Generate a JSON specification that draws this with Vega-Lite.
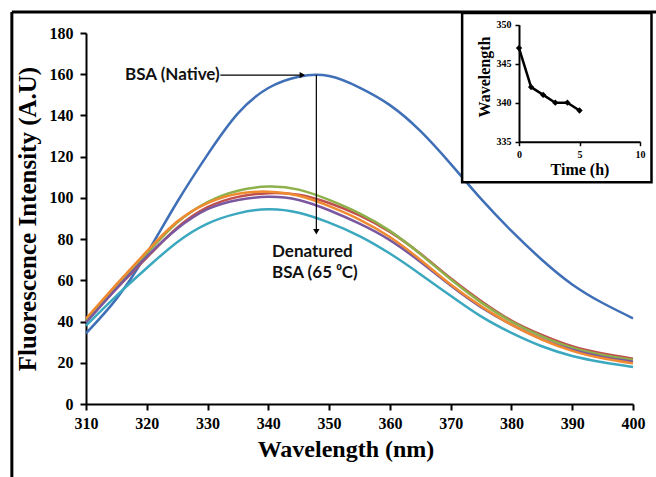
{
  "$schema": "https://vega.github.io/schema/vega-lite/v6.json",
  "width": 547,
  "height": 371,
  "autosize": {"type": "none"},
  "padding": {"left": 86, "top": 33, "right": 23, "bottom": 73},
  "background": "white",
  "config": {"view": {"stroke": null}, "axis": {"grid": false, "labelFlush": false}},
  "datasets": {
    "spectra": [
      {"nm": 310, "I": 34.3, "s": "Native"}, {"nm": 315, "I": 51, "s": "Native"}, {"nm": 320, "I": 73, "s": "Native"}, {"nm": 325, "I": 98, "s": "Native"}, {"nm": 330, "I": 121, "s": "Native"}, {"nm": 335, "I": 141, "s": "Native"}, {"nm": 340, "I": 153.3, "s": "Native"}, {"nm": 345, "I": 158.8, "s": "Native"}, {"nm": 350, "I": 159.1, "s": "Native"}, {"nm": 355, "I": 153.5, "s": "Native"}, {"nm": 360, "I": 145, "s": "Native"}, {"nm": 365, "I": 132.5, "s": "Native"}, {"nm": 370, "I": 116.5, "s": "Native"}, {"nm": 375, "I": 99.5, "s": "Native"}, {"nm": 380, "I": 84, "s": "Native"}, {"nm": 385, "I": 70, "s": "Native"}, {"nm": 390, "I": 58, "s": "Native"}, {"nm": 395, "I": 49, "s": "Native"}, {"nm": 400, "I": 41.6, "s": "Native"},
      {"nm": 310, "I": 40, "s": "D1"}, {"nm": 315, "I": 56, "s": "D1"}, {"nm": 320, "I": 71, "s": "D1"}, {"nm": 325, "I": 85.5, "s": "D1"}, {"nm": 330, "I": 95.5, "s": "D1"}, {"nm": 335, "I": 100.5, "s": "D1"}, {"nm": 340, "I": 102.3, "s": "D1"}, {"nm": 345, "I": 101.5, "s": "D1"}, {"nm": 350, "I": 97.5, "s": "D1"}, {"nm": 355, "I": 91.5, "s": "D1"}, {"nm": 360, "I": 83.5, "s": "D1"}, {"nm": 365, "I": 73, "s": "D1"}, {"nm": 370, "I": 61, "s": "D1"}, {"nm": 375, "I": 50, "s": "D1"}, {"nm": 380, "I": 40.5, "s": "D1"}, {"nm": 385, "I": 33.5, "s": "D1"}, {"nm": 390, "I": 28, "s": "D1"}, {"nm": 395, "I": 24.5, "s": "D1"}, {"nm": 400, "I": 22, "s": "D1"},
      {"nm": 310, "I": 40.5, "s": "D2"}, {"nm": 315, "I": 57, "s": "D2"}, {"nm": 320, "I": 73, "s": "D2"}, {"nm": 325, "I": 88, "s": "D2"}, {"nm": 330, "I": 98, "s": "D2"}, {"nm": 335, "I": 103.5, "s": "D2"}, {"nm": 340, "I": 105.5, "s": "D2"}, {"nm": 345, "I": 104, "s": "D2"}, {"nm": 350, "I": 99, "s": "D2"}, {"nm": 355, "I": 92.5, "s": "D2"}, {"nm": 360, "I": 84, "s": "D2"}, {"nm": 365, "I": 72.8, "s": "D2"}, {"nm": 370, "I": 60.5, "s": "D2"}, {"nm": 375, "I": 49.3, "s": "D2"}, {"nm": 380, "I": 40, "s": "D2"}, {"nm": 385, "I": 32.8, "s": "D2"}, {"nm": 390, "I": 27.3, "s": "D2"}, {"nm": 395, "I": 23.8, "s": "D2"}, {"nm": 400, "I": 21.3, "s": "D2"},
      {"nm": 310, "I": 39.5, "s": "D3"}, {"nm": 315, "I": 56, "s": "D3"}, {"nm": 320, "I": 71.5, "s": "D3"}, {"nm": 325, "I": 85, "s": "D3"}, {"nm": 330, "I": 94.5, "s": "D3"}, {"nm": 335, "I": 99, "s": "D3"}, {"nm": 340, "I": 100.5, "s": "D3"}, {"nm": 345, "I": 99, "s": "D3"}, {"nm": 350, "I": 94, "s": "D3"}, {"nm": 355, "I": 87.5, "s": "D3"}, {"nm": 360, "I": 79.5, "s": "D3"}, {"nm": 365, "I": 69, "s": "D3"}, {"nm": 370, "I": 57.5, "s": "D3"}, {"nm": 375, "I": 47, "s": "D3"}, {"nm": 380, "I": 38.5, "s": "D3"}, {"nm": 385, "I": 31.5, "s": "D3"}, {"nm": 390, "I": 26.3, "s": "D3"}, {"nm": 395, "I": 22.8, "s": "D3"}, {"nm": 400, "I": 20.5, "s": "D3"},
      {"nm": 310, "I": 38, "s": "D4"}, {"nm": 315, "I": 52.5, "s": "D4"}, {"nm": 320, "I": 66, "s": "D4"}, {"nm": 325, "I": 78.5, "s": "D4"}, {"nm": 330, "I": 87.5, "s": "D4"}, {"nm": 335, "I": 92.5, "s": "D4"}, {"nm": 340, "I": 94.5, "s": "D4"}, {"nm": 345, "I": 92.8, "s": "D4"}, {"nm": 350, "I": 88, "s": "D4"}, {"nm": 355, "I": 81.5, "s": "D4"}, {"nm": 360, "I": 73, "s": "D4"}, {"nm": 365, "I": 63, "s": "D4"}, {"nm": 370, "I": 52.5, "s": "D4"}, {"nm": 375, "I": 42.5, "s": "D4"}, {"nm": 380, "I": 34.5, "s": "D4"}, {"nm": 385, "I": 28, "s": "D4"}, {"nm": 390, "I": 23.3, "s": "D4"}, {"nm": 395, "I": 20.3, "s": "D4"}, {"nm": 400, "I": 18, "s": "D4"},
      {"nm": 310, "I": 41.5, "s": "D5"}, {"nm": 315, "I": 58, "s": "D5"}, {"nm": 320, "I": 74, "s": "D5"}, {"nm": 325, "I": 88.5, "s": "D5"}, {"nm": 330, "I": 97.5, "s": "D5"}, {"nm": 335, "I": 102, "s": "D5"}, {"nm": 340, "I": 103, "s": "D5"}, {"nm": 345, "I": 101, "s": "D5"}, {"nm": 350, "I": 96, "s": "D5"}, {"nm": 355, "I": 89.5, "s": "D5"}, {"nm": 360, "I": 81, "s": "D5"}, {"nm": 365, "I": 70, "s": "D5"}, {"nm": 370, "I": 58, "s": "D5"}, {"nm": 375, "I": 47.5, "s": "D5"}, {"nm": 380, "I": 38.5, "s": "D5"}, {"nm": 385, "I": 31.3, "s": "D5"}, {"nm": 390, "I": 25.8, "s": "D5"}, {"nm": 395, "I": 22.2, "s": "D5"}, {"nm": 400, "I": 19.7, "s": "D5"}
    ],
    "frame": [
      {"x1": 297.8, "x2": 406, "y1": 190.2, "y2": 190.2},
      {"x1": 297.8, "x2": 297.8, "y1": 190.2, "y2": -40}
    ],
    "arrows": [
      {"x1": 332.1, "x2": 345.2, "y1": 159.6, "y2": 159.6},
      {"x1": 347.9, "x2": 347.9, "y1": 159.6, "y2": 84.5}
    ],
    "heads": [
      {"x": 345.6, "y": 159.6, "shape": "triangle-right"},
      {"x": 347.9, "y": 83.6, "shape": "triangle-down"}
    ],
    "labR": [
      {"x": 332.0, "y": 159.6, "t": "BSA (Native)"}
    ],
    "labL": [
      {"x": 340.6, "y": 73.9, "t": "Denatured"},
      {"x": 340.6, "y": 63.4, "t": "BSA (65 ⁰C)"}
    ],
    "box": [{"t1": -4.7, "t2": 10.95, "w1": 351.5, "w2": 329.8}],
    "inset": [
      {"time": 0, "wl": 347}, {"time": 1, "wl": 342}, {"time": 2, "wl": 341},
      {"time": 3, "wl": 340}, {"time": 4, "wl": 340}, {"time": 5, "wl": 339}
    ]
  },
  "layer": [
    {
      "layer": [
        {
          "data": {"name": "spectra"},
          "mark": {"type": "line", "interpolate": "natural", "strokeWidth": 2.5},
          "encoding": {
            "x": {"field": "nm", "type": "quantitative",
              "scale": {"domain": [310, 400], "nice": false},
              "axis": {"title": "Wavelength (nm)", "values": [310, 320, 330, 340, 350, 360, 370, 380, 390, 400],
                "labelFont": "Liberation Serif", "labelFontWeight": "bold", "labelFontSize": 16, "labelColor": "black",
                "titleFont": "Liberation Serif", "titleFontWeight": "bold", "titleFontSize": 24, "titleColor": "black",
                "titleX": 259.5, "titlePadding": 6,
                "domainColor": "black", "domainWidth": 2, "tickColor": "black", "tickWidth": 2, "tickSize": 6, "labelPadding": 5}},
            "y": {"field": "I", "type": "quantitative",
              "scale": {"domain": [0, 180], "nice": false},
              "axis": {"title": "Fluorescence Intensity (A.U)", "values": [0, 20, 40, 60, 80, 100, 120, 140, 160, 180],
                "labelFont": "Liberation Serif", "labelFontWeight": "bold", "labelFontSize": 16, "labelColor": "black",
                "titleFont": "Liberation Serif", "titleFontWeight": "bold", "titleFontSize": 25, "titleColor": "black",
                "titlePadding": 9,
                "domainColor": "black", "domainWidth": 2, "tickColor": "black", "tickWidth": 2, "tickSize": 6, "labelPadding": 7}},
            "color": {"field": "s", "type": "nominal",
              "scale": {"domain": ["Native", "D1", "D2", "D3", "D4", "D5"],
                "range": ["#3F6FB6", "#C0504D", "#8DB04A", "#7A58A0", "#3BA8BF", "#F08A30"]},
              "legend": null}
          }
        },
        {
          "data": {"name": "frame"},
          "mark": {"type": "rule", "color": "black", "strokeWidth": 3, "clip": false},
          "encoding": {
            "x": {"field": "x1", "type": "quantitative"}, "x2": {"field": "x2"},
            "y": {"field": "y1", "type": "quantitative"}, "y2": {"field": "y2"}
          }
        },
        {
          "data": {"name": "arrows"},
          "mark": {"type": "rule", "color": "black", "strokeWidth": 1.2},
          "encoding": {
            "x": {"field": "x1", "type": "quantitative"}, "x2": {"field": "x2"},
            "y": {"field": "y1", "type": "quantitative"}, "y2": {"field": "y2"}
          }
        },
        {
          "data": {"name": "heads"},
          "mark": {"type": "point", "filled": true, "color": "black", "opacity": 1, "size": 40},
          "encoding": {
            "x": {"field": "x", "type": "quantitative"},
            "y": {"field": "y", "type": "quantitative"},
            "shape": {"field": "shape", "type": "nominal", "scale": null}
          }
        },
        {
          "data": {"name": "labR"},
          "mark": {"type": "text", "font": "Lato", "fontWeight": "bold", "fontSize": 17, "color": "#111", "baseline": "middle", "align": "right"},
          "encoding": {
            "x": {"field": "x", "type": "quantitative"},
            "y": {"field": "y", "type": "quantitative"},
            "text": {"field": "t"}
          }
        },
        {
          "data": {"name": "labL"},
          "mark": {"type": "text", "font": "Lato", "fontWeight": "bold", "fontSize": 17, "color": "#111", "baseline": "middle", "align": "left"},
          "encoding": {
            "x": {"field": "x", "type": "quantitative"},
            "y": {"field": "y", "type": "quantitative"},
            "text": {"field": "t"}
          }
        }
      ]
    },
    {
      "layer": [
        {
          "data": {"name": "box"},
          "mark": {"type": "rect", "fill": "white", "stroke": "black", "strokeWidth": 2.5, "clip": false},
          "encoding": {
            "x": {"field": "t1", "type": "quantitative",
              "scale": {"domain": [0, 10], "range": [433, 554], "nice": false, "zero": false},
              "axis": {"orient": "bottom", "offset": -262.3, "zindex": 2, "title": "Time (h)", "values": [0, 5, 10],
                "labelFont": "Liberation Serif", "labelFontWeight": "bold", "labelFontSize": 10, "labelColor": "black",
                "titleFont": "Liberation Serif", "titleFontWeight": "bold", "titleFontSize": 16, "titleColor": "black",
                "titlePadding": 2,
                "domainColor": "black", "domainWidth": 2, "tickColor": "black", "tickWidth": 1.5, "tickSize": 4, "labelPadding": 4}},
            "x2": {"field": "t2"},
            "y": {"field": "w1", "type": "quantitative",
              "scale": {"domain": [335, 350], "range": [108.7, -8.3], "nice": false, "zero": false},
              "axis": {"orient": "left", "offset": -433, "zindex": 2, "title": "Wavelength", "values": [335, 340, 345, 350],
                "labelFont": "Liberation Serif", "labelFontWeight": "bold", "labelFontSize": 10, "labelColor": "black",
                "titleFont": "Liberation Serif", "titleFontWeight": "bold", "titleFontSize": 16, "titleColor": "black",
                "titlePadding": 4, "titleY": 43.5,
                "domainColor": "black", "domainWidth": 2, "tickColor": "black", "tickWidth": 1.5, "tickSize": 4, "labelPadding": 4}},
            "y2": {"field": "w2"}
          }
        },
        {
          "data": {"name": "inset"},
          "mark": {"type": "line", "color": "black", "strokeWidth": 2.5},
          "encoding": {
            "x": {"field": "time", "type": "quantitative"},
            "y": {"field": "wl", "type": "quantitative"}
          }
        },
        {
          "data": {"name": "inset"},
          "mark": {"type": "point", "shape": "diamond", "filled": true, "color": "black", "opacity": 1, "size": 40},
          "encoding": {
            "x": {"field": "time", "type": "quantitative"},
            "y": {"field": "wl", "type": "quantitative"}
          }
        }
      ]
    }
  ],
  "resolve": {"scale": {"x": "independent", "y": "independent"}, "axis": {"x": "independent", "y": "independent"}}
}
